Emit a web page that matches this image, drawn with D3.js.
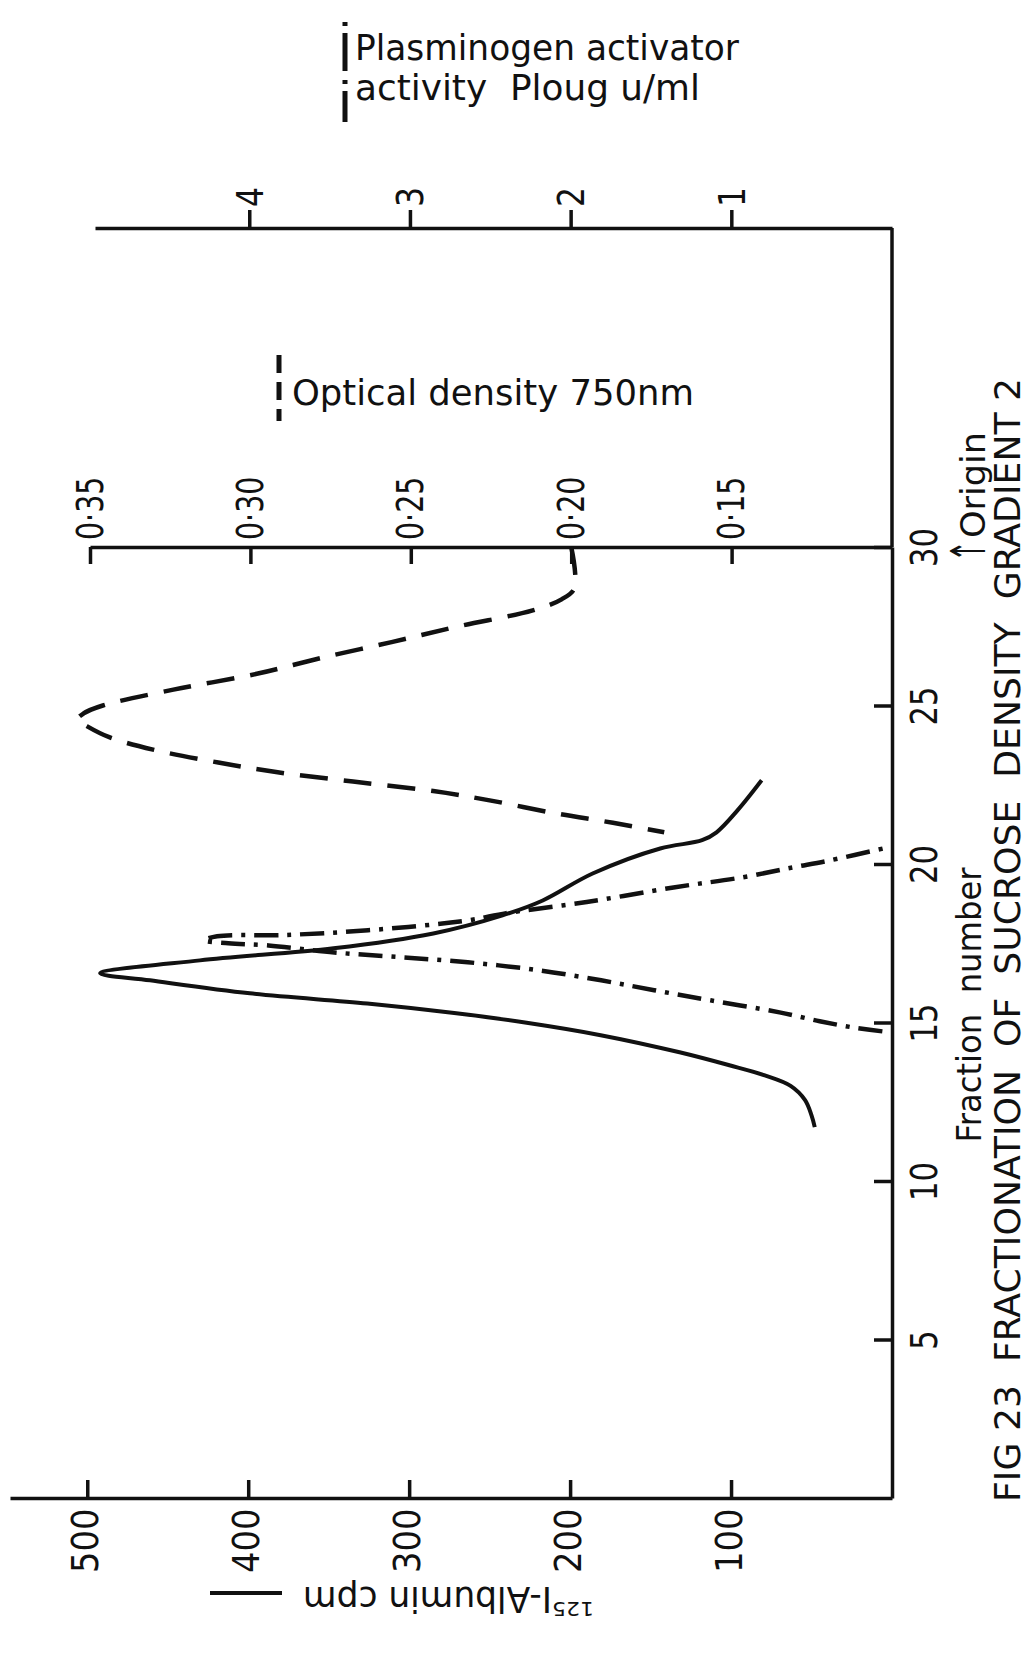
<!DOCTYPE html>
<html>
<head>
<meta charset="utf-8">
<script src="https://cdn.jsdelivr.net/npm/d3@7"></script>
<style>
    body { margin: 0; background: #fff; }
    svg { display: block; }
    .axis path, .axis line { stroke: #111; stroke-width: 3.5; }
    text { fill: #111; font-family: 'DejaVu Sans', sans-serif; }
</style>
</head>
<body>
<div id="chart"></div>
<script>
// Tick values of the four axes
const fractionTicks = [5, 10, 15, 20, 25, 30];
const cpmTicks = [100, 200, 300, 400, 500];
const plougTicks = [1, 2, 3, 4];
const odTicks = [0.15, 0.20, 0.25, 0.30, 0.35];

// 125I-Albumin cpm (solid line)
const albuminFraction = [11.7, 12.07, 12.55, 13.0, 13.33, 13.65, 14.06, 14.6, 15.0, 15.3, 15.6, 15.92, 16.33, 16.55,
    16.96, 17.34, 17.81, 18.38, 18.85, 19.7, 20.49, 20.75, 21.0, 21.69, 22.64];
const albuminCpm = [48, 50, 54, 63, 79, 101, 132, 181, 228, 272, 326, 399, 461, 492,
    430, 347, 285, 242, 217, 186, 144, 118, 109, 96, 81];

// Optical density 750nm (dashed line)
const odFraction = [30, 28.7, 28.35, 28.0, 27.5, 27.0, 26.5, 26.0, 25.5, 25.0, 24.75, 24.55, 24.35, 24.0,
    23.6, 23.2, 22.9, 22.6, 22.3, 22.0, 21.6, 21.3, 21.0];
const odValue = [0.200, 0.199, 0.203, 0.212, 0.235, 0.256, 0.278, 0.298, 0.324, 0.346, 0.352, 0.354, 0.351, 0.344,
    0.330, 0.310, 0.292, 0.268, 0.243, 0.225, 0.205, 0.187, 0.171];

// Plasminogen activator activity, Ploug u/ml (dash-dot line)
const plougFraction = [14.72, 14.85, 15.04, 15.32, 15.7, 16.02, 16.33, 16.65, 16.9, 17.06, 17.21, 17.43, 17.5, 17.59,
    17.72, 17.76, 17.91, 18.22, 18.45, 18.8, 19.26, 19.58, 19.89, 20.11, 20.52];
const plougValue = [0.06, 0.25, 0.45, 0.7, 1.13, 1.48, 1.81, 2.2, 2.64, 3.06, 3.47, 3.88, 4.13, 4.28,
    4.2, 3.78, 3.26, 2.64, 2.4, 1.9, 1.36, 0.93, 0.62, 0.39, 0.03];

const width = 1029, height = 1655;

// The figure is printed turned a quarter turn: fraction runs up the page,
// all value axes grow to the left from the same zero line.
const zeroX = 892;
const topAxisY = 228;

const yFrac = d3.scaleLinear().domain([0, 30]).range([1498, 547]);
const xCpm = d3.scaleLinear().domain([0, 548]).range([zeroX, 10]);
const xPloug = d3.scaleLinear().domain([0, 4.96]).range([zeroX, 95]);
const xOd = d3.scaleLinear().domain([0.10, 0.35]).range([zeroX, 90]);

const svg = d3.select('#chart')
    .append('svg')
    .attr('width', width)
    .attr('height', height);

svg.append('rect').attr('width', width).attr('height', height).attr('fill', '#fff');

// squeeze labels to the narrow lettering of the original
function fit(sel, digitW) {
    sel.attr('textLength', function() {
        let w = 0;
        for (const c of this.textContent) w += (c === '·') ? digitW * 0.25 : digitW;
        return w;
    }).attr('lengthAdjust', 'spacingAndGlyphs');
}

function plainAxis(g) {
    g.attr('font-size', null).attr('font-family', null).attr('fill', null);
    g.selectAll('text').attr('font-size', 38);
}

// Fraction number axis (vertical zero line)
svg.append('g')
    .attr('class', 'axis')
    .attr('transform', `translate(${zeroX},0)`)
    .call(d3.axisRight(yFrac).tickValues(fractionTicks).tickSizeInner(-18).tickSizeOuter(0))
    .call(plainAxis)
    .selectAll('text')
    .attr('transform', 'rotate(-90)')
    .attr('x', 0).attr('y', 45).attr('dy', null)
    .attr('text-anchor', 'middle')
    .call(fit, 19.5);

// continue the zero line up to the Ploug axis
svg.append('line')
    .attr('x1', zeroX).attr('x2', zeroX)
    .attr('y1', topAxisY).attr('y2', yFrac(30))
    .attr('stroke', '#111').attr('stroke-width', 3.5);

// 125I-Albumin cpm axis
svg.append('g')
    .attr('class', 'axis')
    .attr('transform', `translate(0,${yFrac(0)})`)
    .call(d3.axisBottom(xCpm).tickValues(cpmTicks).tickSizeInner(-18).tickSizeOuter(0))
    .call(plainAxis)
    .selectAll('text')
    .attr('transform', 'rotate(-90)')
    .attr('x', -75).attr('y', 10).attr('dy', null)
    .attr('text-anchor', 'start')
    .call(fit, 21.5);

// Plasminogen activator axis (top)
svg.append('g')
    .attr('class', 'axis')
    .attr('transform', `translate(0,${topAxisY})`)
    .call(d3.axisTop(xPloug).tickValues(plougTicks).tickSizeInner(18).tickSizeOuter(0)
        .tickFormat(d3.format('d')))
    .call(plainAxis)
    .selectAll('text')
    .attr('transform', 'rotate(-90)')
    .attr('x', 21).attr('y', 13).attr('dy', null)
    .attr('text-anchor', 'start')
    .call(fit, 20);

// Optical density axis
svg.append('g')
    .attr('class', 'axis')
    .attr('transform', `translate(0,${yFrac(30)})`)
    .call(d3.axisTop(xOd).tickValues(odTicks).tickSizeInner(-17).tickSizeOuter(0)
        .tickFormat(d => d3.format('.2f')(d).replace('.', '·')))
    .call(plainAxis)
    .selectAll('text')
    .attr('transform', 'rotate(-90)')
    .attr('x', 7).attr('y', 12).attr('dy', null)
    .attr('text-anchor', 'start')
    .call(fit, 19.5);

// Curves
const curveStyle = d3.curveCatmullRom.alpha(0.5);

const albuminLine = d3.line()
    .x(i => xCpm(albuminCpm[i]))
    .y(i => yFrac(albuminFraction[i]))
    .curve(curveStyle);

const odLine = d3.line()
    .x(i => xOd(odValue[i]))
    .y(i => yFrac(odFraction[i]))
    .curve(curveStyle);

const plougLine = d3.line()
    .x(i => xPloug(plougValue[i]))
    .y(i => yFrac(plougFraction[i]))
    .curve(curveStyle);

svg.append('path')
    .attr('d', albuminLine(d3.range(albuminCpm.length)))
    .attr('fill', 'none').attr('stroke', '#111').attr('stroke-width', 4)
    .attr('stroke-linejoin', 'round');

svg.append('path')
    .attr('d', odLine(d3.range(odValue.length)))
    .attr('fill', 'none').attr('stroke', '#111').attr('stroke-width', 4.5)
    .attr('stroke-dasharray', '28,16');

svg.append('path')
    .attr('d', plougLine(d3.range(plougValue.length)))
    .attr('fill', 'none').attr('stroke', '#111').attr('stroke-width', 4.5)
    .attr('stroke-dasharray', '24,9,4,9');

// Legend keys and labels
svg.append('line')
    .attr('x1', 345).attr('x2', 345).attr('y1', 22).attr('y2', 122)
    .attr('stroke', '#111').attr('stroke-width', 5)
    .attr('stroke-dasharray', '4,7,38,9');

svg.append('text')
    .attr('x', 355).attr('y', 60)
    .attr('font-size', 35)
    .attr('textLength', 384).attr('lengthAdjust', 'spacingAndGlyphs')
    .text('Plasminogen activator');

svg.append('text')
    .attr('x', 355).attr('y', 100)
    .attr('font-size', 35)
    .style('white-space', 'pre')
    .attr('textLength', 345).attr('lengthAdjust', 'spacingAndGlyphs')
    .text('activity  Ploug u/ml');

svg.append('line')
    .attr('x1', 279).attr('x2', 279).attr('y1', 355).attr('y2', 421)
    .attr('stroke', '#111').attr('stroke-width', 5)
    .attr('stroke-dasharray', '18,9');

svg.append('text')
    .attr('x', 292).attr('y', 405)
    .attr('font-size', 35)
    .attr('textLength', 402).attr('lengthAdjust', 'spacingAndGlyphs')
    .text('Optical density 750nm');

// 125I-Albumin cpm label, turned upside down with its key
svg.append('line')
    .attr('x1', 210).attr('x2', 282).attr('y1', 1593).attr('y2', 1593)
    .attr('stroke', '#111').attr('stroke-width', 4);

const cpmLabel = svg.append('text')
    .attr('transform', 'translate(594,1587) rotate(180)')
    .attr('font-size', 35);
cpmLabel.append('tspan')
    .attr('font-size', 20).attr('dy', -15)
    .attr('textLength', 42).attr('lengthAdjust', 'spacingAndGlyphs')
    .text('125');
cpmLabel.append('tspan')
    .attr('dy', 15)
    .attr('textLength', 249).attr('lengthAdjust', 'spacingAndGlyphs')
    .text('I-Albumin cpm');

// Axis title, origin mark and caption
svg.append('text')
    .attr('transform', 'translate(981,1005) rotate(-90)')
    .attr('text-anchor', 'middle')
    .attr('font-size', 33)
    .style('white-space', 'pre')
    .attr('textLength', 275).attr('lengthAdjust', 'spacingAndGlyphs')
    .text('Fraction  number');

const origin = svg.append('text')
    .attr('transform', 'translate(985,562) rotate(-90)')
    .attr('font-size', 33);
origin.append('tspan')
    .attr('font-size', 48)
    .attr('textLength', 22).attr('lengthAdjust', 'spacingAndGlyphs')
    .text('↑');
origin.append('tspan')
    .attr('dx', 2)
    .attr('textLength', 106).attr('lengthAdjust', 'spacingAndGlyphs')
    .text('Origin');

svg.append('text')
    .attr('transform', 'translate(1020,1502) rotate(-90)')
    .attr('font-size', 36)
    .style('white-space', 'pre')
    .attr('textLength', 1124).attr('lengthAdjust', 'spacingAndGlyphs')
    .text('FIG 23  FRACTIONATION  OF  SUCROSE  DENSITY  GRADIENT 2');
</script>
</body>
</html>
